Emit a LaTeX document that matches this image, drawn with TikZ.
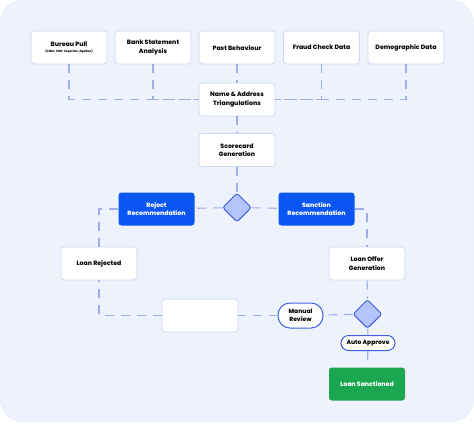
\documentclass[tikz,border=0pt]{standalone}
\usepackage{fontspec}
\setmainfont{Poppins}[BoldFont = {Poppins ExtraBold}]
\usetikzlibrary{shapes.geometric}

\definecolor{panel}{HTML}{EEF2FC}
\definecolor{panelline}{HTML}{DFE6F7}
\definecolor{boxline}{HTML}{CDD6F2}
\definecolor{linkcol}{HTML}{9DB0EC}
\definecolor{brandblue}{HTML}{0A56F2}
\definecolor{brandgreen}{HTML}{1BA650}
\definecolor{choicefill}{HTML}{B3C5FB}
\definecolor{choiceline}{HTML}{3F5FDF}
\definecolor{ink}{HTML}{0A0A0A}

\begin{document}
\begin{tikzpicture}[x = 1pt, y = -1pt,
	 box/.style = {draw = boxline, fill = white, rounded corners = 3pt, line width = 0.8pt,
	 	minimum width = 76pt, minimum height = 33pt, align = center, inner sep = 1pt,
	 	font = \fontsize{6.2}{8.2}\selectfont\bfseries, text = ink},
	 bluebox/.style = {box, draw = none, fill = brandblue, text = white},
	 greenbox/.style = {box, draw = none, fill = brandgreen, text = white},
	 choice/.style = {diamond, draw = choiceline, fill = choicefill, line width = 1pt,
	 	minimum width = 29pt, minimum height = 29pt, inner sep = 0pt, rounded corners = 2.5pt},
	 pill/.style = {draw = choiceline, fill = white, line width = 1pt, align = center, inner sep = 1pt,
	 	font = \fontsize{6}{7.6}\selectfont\bfseries, text = ink},
	 link/.style = {draw = linkcol, line width = 1.1pt, dash pattern = on 9pt off 7pt}]
	 \useasboundingbox (0, 0) rectangle (474, 424);
	 \draw[panelline, fill = panel, rounded corners = 22pt] (0.5, 0.5) rectangle (473.5, 421.5);
	 
	 \node[box] (bureau) at (69, 47.5) {Bureau Pull\\[-1.5pt]{\fontsize{3}{3.6}\selectfont(CIBIL, CRIF, Experian, Equifax)}};
	 \node[box] (bank) at (153, 47.5) {Bank Statement\\Analysis};
	 \node[box] (past) at (237, 47.5) {Past Behaviour};
	 \node[box] (fraud) at (321.5, 47.5) {Fraud Check Data};
	 \node[box] (demo) at (406, 47.5) {Demographic Data};
	 
	 \node[box] (triang) at (237, 99.5) {Name \& Address\\Triangulations};
	 \node[box] (score) at (237, 150) {Scorecard\\Generation};
	 \node[choice] (check) at (237, 207.5) {};
	 \node[bluebox] (reject) at (156.5, 209) {Reject\\Recommendation};
	 \node[bluebox] (sanction) at (316.5, 209) {Sanction\\Recommendation};
	 
	 \node[box] (rejected) at (99, 263.5) {Loan Rejected};
	 \node[box] (offer) at (367, 263.5) {Loan Offer\\Generation};
	 \node[box] (blank) at (200, 315.5) {};
	 \node[pill, minimum width = 45pt, minimum height = 25pt, rounded corners = 12pt] (manual) at (300.5, 315.5) {Manual\\Review};
	 \node[choice] (approve) at (367.5, 314) {};
	 \node[pill, minimum width = 54pt, minimum height = 15pt, rounded corners = 7.5pt] (auto) at (368, 343) {Auto Approve};
	 \node[greenbox] (sanctioned) at (367, 384) {Loan Sanctioned};
	 
	 \foreach \src in {bureau, bank}
	 \draw[link] (\src.south) |- (triang.west);
	 \foreach \src in {fraud, demo}
	 \draw[link] (\src.south) |- (triang.east);
	 \draw[link] (past) -- (triang);
	 \draw[link] (triang) -- (score);
	 \draw[link] (score) -- (check);
	 \draw[link] (check) -- (reject);
	 \draw[link] (check) -- (sanction);
	 \draw[link] (reject.west) -| (rejected.north);
	 \draw[link] (sanction.east) -| (offer.north);
	 \draw[link] (offer) -- (approve);
	 \draw[link] (approve) -- (manual);
	 \draw[link] (manual) -- (blank);
	 \draw[link] (blank.west) -| (rejected.south);
	 \draw[link] (approve) -- (auto);
	 \draw[link] (auto) -- (sanctioned);
\end{tikzpicture}
\end{document}
